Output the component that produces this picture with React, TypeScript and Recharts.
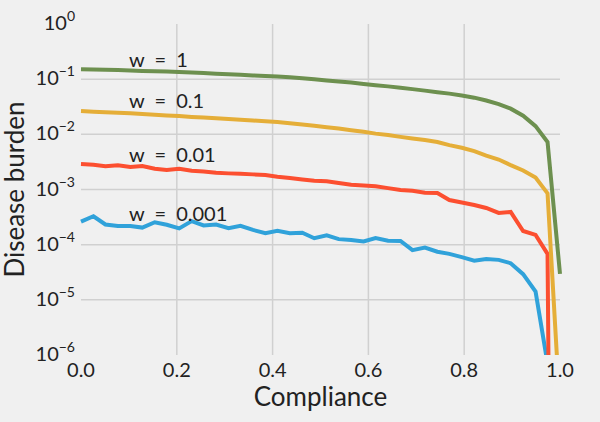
import { LineChart, Line, XAxis, YAxis, CartesianGrid, ReferenceDot, Label } from "recharts";

// compliance grid (40 points, 0 .. 1)
const compliance = [
  0, 0.026, 0.051, 0.077, 0.103, 0.128, 0.154, 0.179, 0.205, 0.231,
  0.256, 0.282, 0.308, 0.333, 0.359, 0.385, 0.41, 0.436, 0.462, 0.487,
  0.513, 0.538, 0.564, 0.59, 0.615, 0.641, 0.667, 0.692, 0.718, 0.744,
  0.769, 0.795, 0.821, 0.846, 0.872, 0.897, 0.923, 0.949, 0.974, 1.0,
];

// disease burden per weight; 1e-30 stands for a zero (off the bottom of the log axis)
const burdenW1 = [
  0.152, 0.15, 0.148, 0.146, 0.1436, 0.141, 0.139, 0.137, 0.1345, 0.132,
  0.129, 0.126, 0.123, 0.12, 0.117, 0.1145, 0.112, 0.108, 0.104, 0.0995,
  0.095, 0.091, 0.087, 0.082, 0.0778, 0.074, 0.07, 0.066, 0.062, 0.058,
  0.0547, 0.0505, 0.0462, 0.041, 0.0353, 0.0292, 0.0218, 0.0141, 0.00724, 2.95e-5,
];
const burdenW01 = [
  0.0264, 0.0257, 0.0251, 0.0245, 0.024, 0.0234, 0.0226, 0.022, 0.0214, 0.0207,
  0.0201, 0.0195, 0.0189, 0.0183, 0.0178, 0.0172, 0.0167, 0.0159, 0.0151, 0.0143,
  0.0135, 0.0127, 0.0119, 0.0111, 0.0103, 0.0097, 0.009, 0.0084, 0.00787, 0.00724,
  0.00638, 0.00571, 0.00498, 0.00412, 0.00349, 0.00277, 0.00221, 0.00165, 0.00085, 1e-7,
];
const burdenW001 = [
  2.9e-3, 2.81e-3, 2.63e-3, 2.74e-3, 2.55e-3, 2.66e-3, 2.38e-3, 2.25e-3, 2.38e-3, 2.19e-3,
  2.12e-3, 2.01e-3, 1.96e-3, 1.93e-3, 1.88e-3, 1.83e-3, 1.7e-3, 1.61e-3, 1.52e-3, 1.44e-3,
  1.41e-3, 1.31e-3, 1.22e-3, 1.18e-3, 1.15e-3, 1.06e-3, 9.8e-4, 9.46e-4, 8.75e-4, 8.65e-4,
  6.45e-4, 5.82e-4, 5.24e-4, 4.62e-4, 3.76e-4, 3.92e-4, 1.77e-4, 1.5e-4, 6.8e-5, 1e-30,
];
const burdenW0001 = [
  2.61e-4, 3.27e-4, 2.32e-4, 2.18e-4, 2.18e-4, 2.04e-4, 2.55e-4, 2.3e-4, 1.97e-4, 2.67e-4,
  2.23e-4, 2.31e-4, 1.99e-4, 2.2e-4, 1.85e-4, 1.61e-4, 1.79e-4, 1.61e-4, 1.65e-4, 1.31e-4,
  1.48e-4, 1.26e-4, 1.22e-4, 1.14e-4, 1.32e-4, 1.18e-4, 1.17e-4, 7.94e-5, 8.85e-5, 7.45e-5,
  6.8e-5, 5.93e-5, 5.14e-5, 5.52e-5, 5.3e-5, 4.61e-5, 2.92e-5, 1.41e-5, 7e-7, 1e-30,
];

const xTicks = [0, 0.2, 0.4, 0.6, 0.8, 1.0];
const yTicks = [1e-6, 1e-5, 1e-4, 1e-3, 1e-2, 1e-1, 1];
const xGrid = [0.2, 0.4, 0.6, 0.8];
const yGrid = [1e-5, 1e-4, 1e-3, 1e-2, 1e-1];

// en spaces around "=" to mimic the math-text spacing
const curveLabels = ["w\u2002=\u20021", "w\u2002=\u20020.1", "w\u2002=\u20020.01", "w\u2002=\u20020.001"];
const labelX = [0.1, 0.1, 0.1, 0.1];
const labelY = [0.221, 0.04, 0.0042, 3.6e-4];

const FONT = "Lato";
const INK = "#222";

const data = compliance.map((c, i) => ({
  c,
  w1: burdenW1[i],
  w01: burdenW01[i],
  w001: burdenW001[i],
  w0001: burdenW0001[i],
}));

/* eslint-disable @typescript-eslint/no-explicit-any */
const PowerTick = ({ x, y, payload }: any) => {
  const exp = Math.round(Math.log10(payload.value));
  return (
    <text x={x + 2} y={y} textAnchor="end" fill={INK} fontSize={20} fontFamily={FONT}>
      <tspan dy={6}>10</tspan>
      <tspan dy={-9} fontSize={14}>{exp < 0 ? `\u2212${-exp}` : `${exp}`}</tspan>
    </text>
  );
};
/* eslint-enable @typescript-eslint/no-explicit-any */

export default function App() {
  return (
    <div style={{ position: "absolute", left: 0, top: 0, width: 600, height: 422, background: "#f0f0f0" }}>
      <LineChart width={600} height={422} data={data} margin={{ top: 24, right: 40, bottom: 7, left: 0 }}>
        <CartesianGrid
          stroke="#d0d0d0"
          strokeWidth={1.5}
          horizontalValues={yGrid}
          verticalValues={xGrid}
        />
        <XAxis
          dataKey="c"
          type="number"
          domain={[0, 1]}
          ticks={xTicks}
          tickFormatter={(v) => v.toFixed(1)}
          tick={{ fontSize: 20, fill: INK, fontFamily: FONT }}
          axisLine={false}
          tickLine={false}
          height={60}
        >
          <Label value="Compliance" position="insideBottom" offset={9} fontSize={26} fill={INK} fontFamily={FONT} />
        </XAxis>
        <YAxis
          type="number"
          scale="log"
          domain={[1e-6, 1]}
          allowDataOverflow
          ticks={yTicks}
          tick={<PowerTick />}
          axisLine={false}
          tickLine={false}
          width={81}
        >
          <Label
            value="Disease burden"
            angle={-90}
            position="insideLeft"
            offset={15}
            fontSize={26}
            fill={INK}
            fontFamily={FONT}
            style={{ textAnchor: "middle" }}
          />
        </YAxis>
        <Line dataKey="w0001" stroke="#30a2da" strokeWidth={4} dot={false} isAnimationActive={false} />
        <Line dataKey="w001" stroke="#fc4f30" strokeWidth={4} dot={false} isAnimationActive={false} />
        <Line dataKey="w01" stroke="#e5ae38" strokeWidth={4} dot={false} isAnimationActive={false} />
        <Line dataKey="w1" stroke="#6d904f" strokeWidth={4} dot={false} isAnimationActive={false} />
        {curveLabels.map((t, i) => (
          <ReferenceDot
            key={t}
            x={labelX[i]}
            y={labelY[i]}
            r={0}
            fill="none"
            stroke="none"
            label={{ value: t, position: "right", offset: 0, fontSize: 20, fill: INK, fontFamily: FONT }}
          />
        ))}
      </LineChart>
    </div>
  );
}
